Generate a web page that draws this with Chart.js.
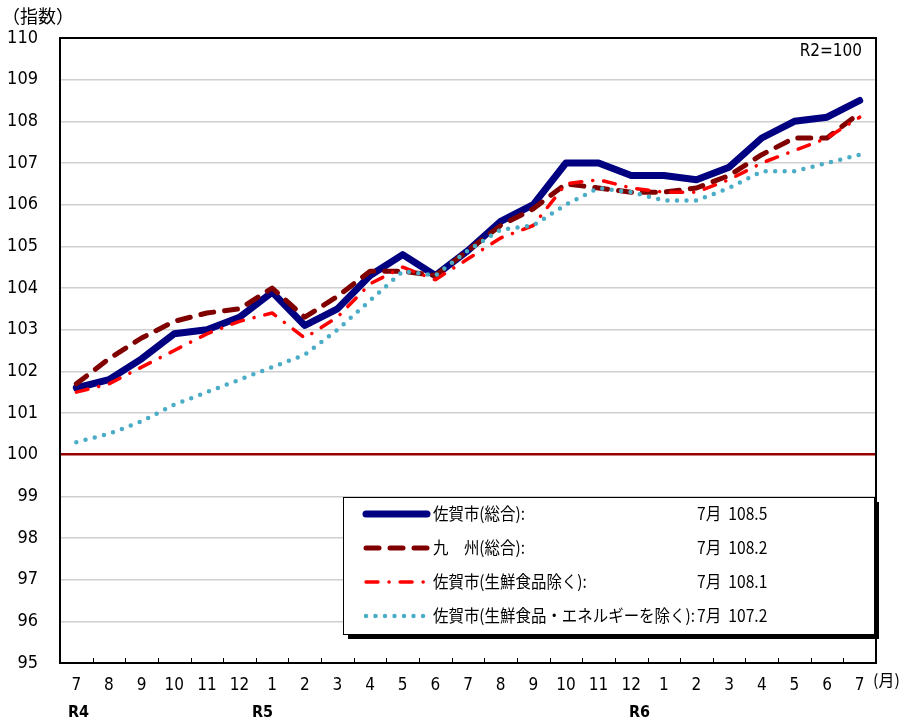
<!DOCTYPE html>
<html>
<head>
<meta charset="utf-8">
<script src="https://cdn.jsdelivr.net/npm/chart.js@4.4.1/dist/chart.umd.min.js"></script>
<style>
  html, body { margin: 0; padding: 0; background: #fff; }
  #wrap { width: 904px; height: 723px; position: relative; }
</style>
</head>
<body>
<div id="wrap"><canvas id="cpi" width="904" height="723"></canvas></div>
<script>
// ── DATA ──────────────────────────────────────────────────────────────────
const months = ['7','8','9','10','11','12','1','2','3','4','5','6',
                '7','8','9','10','11','12','1','2','3','4','5','6','7'];
const eras = ['R4', 'R5', 'R6'];
const yTicks = [95, 96, 97, 98, 99, 100, 101, 102, 103, 104, 105, 106, 107, 108, 109, 110];

const sagaTotal   = [101.6, 101.8, 102.3, 102.9, 103.0, 103.3, 103.9, 103.1, 103.5, 104.3, 104.8, 104.3,
                     104.9, 105.6, 106.0, 107.0, 107.0, 106.7, 106.7, 106.6, 106.9, 107.6, 108.0, 108.1, 108.5];
const kyushuTotal = [101.7, 102.3, 102.8, 103.2, 103.4, 103.5, 104.0, 103.3, 103.8, 104.4, 104.4, 104.3,
                     104.9, 105.5, 105.9, 106.5, 106.4, 106.3, 106.3, 106.4, 106.7, 107.2, 107.6, 107.6, 108.2];
const sagaExFresh = [101.5, 101.7, 102.1, 102.5, 102.9, 103.2, 103.4, 102.8, 103.3, 104.1, 104.5, 104.2,
                     104.7, 105.2, 105.5, 106.5, 106.6, 106.4, 106.3, 106.3, 106.6, 107.0, 107.3, 107.6, 108.1];
const sagaExFreshEnergy = [100.3, 100.5, 100.8, 101.2, 101.5, 101.8, 102.1, 102.4, 103.0, 103.7, 104.4, 104.3,
                     104.9, 105.4, 105.5, 106.0, 106.4, 106.3, 106.1, 106.1, 106.4, 106.8, 106.8, 107.0, 107.2];

const seriesNames = ['佐賀市(総合):', '九　州(総合):', '佐賀市(生鮮食品除く):', '佐賀市(生鮮食品・エネルギーを除く):'];
const latestText  = ['7月  108.5', '7月  108.2', '7月  108.1', '7月  107.2'];

// ── STYLE ─────────────────────────────────────────────────────────────────
const NARROW = '"Liberation Sans Narrow", "Arial Narrow", "DejaVu Sans Condensed", sans-serif';
const JP     = '"Noto Sans CJK JP", "Noto Sans", sans-serif';

const styles = [
  { color: '#000080', width: 7,   dash: [],            cap: 'round' },
  { color: '#800000', width: 5,   dash: [13, 11],      cap: 'round' },
  { color: '#FF0000', width: 3.5, dash: [12, 11, 0.1, 11], cap: 'round' },
  { color: '#4BACC6', width: 4.5, dash: [0, 9.5],      cap: 'round' }
];

// ── DECORATIONS ───────────────────────────────────────────────────────────
const decorPlugin = {
  id: 'decor',
  afterDraw(chart) {
    const { ctx, chartArea: a, scales } = chart;
    const x = scales.x;
    ctx.save();

    // frame
    ctx.strokeStyle = '#000';
    ctx.lineWidth = 2;
    ctx.strokeRect(a.left, a.top, a.right - a.left, a.bottom - a.top);

    // inner tick marks between months
    ctx.lineWidth = 1;
    ctx.beginPath();
    for (let i = 1; i < months.length; i++) {
      const px = Math.round((x.getPixelForValue(i - 1) + x.getPixelForValue(i)) / 2) + 0.5;
      ctx.moveTo(px, a.bottom);
      ctx.lineTo(px, a.bottom - 5);
    }
    ctx.stroke();

    // era labels
    ctx.fillStyle = '#000';
    ctx.font = 'bold 16px ' + NARROW;
    ctx.textBaseline = 'middle';
    ctx.textAlign = 'left';
    const eraX = [68, 252, 629];
    eras.forEach((t, i) => ctx.fillText(t, eraX[i], 713));

    // axis captions
    ctx.font = '18px ' + JP;
    ctx.fillText('（指数）', 2, 16);
    ctx.font = '16px ' + JP;
    ctx.fillText('(月)', 873, 680);
    ctx.font = '17px ' + NARROW;
    ctx.textAlign = 'right';
    ctx.fillText('R2=100', 862, 52);

    // legend box with shadow
    const lx = 343, ly = 497, lw = 531, lh = 137;
    ctx.fillStyle = '#000';
    ctx.fillRect(lx + 5, ly + 5, lw, lh);
    ctx.fillStyle = '#fff';
    ctx.fillRect(lx, ly, lw, lh);
    ctx.strokeStyle = '#000';
    ctx.lineWidth = 1;
    ctx.strokeRect(lx + 0.5, ly + 0.5, lw, lh);

    const rowY = [514, 548, 582, 616];
    styles.forEach((s, i) => {
      ctx.beginPath();
      ctx.strokeStyle = s.color;
      ctx.lineWidth = s.width;
      ctx.lineCap = s.cap;
      ctx.setLineDash(s.dash);
      ctx.moveTo(366, rowY[i]);
      ctx.lineTo(427, rowY[i]);
      ctx.stroke();
    });
    ctx.setLineDash([]);
    ctx.fillStyle = '#000';
    ctx.textAlign = 'left';
    ctx.font = '17px ' + JP;
    const longest = Math.max(...seriesNames.map(t => ctx.measureText(t).width));
    const sx = Math.min(1, 262 / longest);
    seriesNames.forEach((t, i) => {
      ctx.save();
      ctx.translate(433, rowY[i]);
      ctx.scale(sx, 1);
      ctx.fillText(t, 0, 0);
      ctx.restore();
    });
    latestText.forEach((t, i) => {
      ctx.save();
      ctx.translate(697, rowY[i]);
      ctx.scale(0.92, 1);
      ctx.fillText(t, 0, 0);
      ctx.restore();
    });

    ctx.restore();
  }
};

// ── CHART ─────────────────────────────────────────────────────────────────
const seriesData = [sagaTotal, kyushuTotal, sagaExFresh, sagaExFreshEnergy];

new Chart(document.getElementById('cpi'), {
  type: 'line',
  data: {
    labels: months,
    datasets: seriesData.map((d, i) => ({
      label: seriesNames[i],
      data: d,
      borderColor: styles[i].color,
      borderWidth: styles[i].width,
      borderDash: styles[i].dash,
      borderCapStyle: styles[i].cap,
      borderJoinStyle: 'round',
      pointRadius: 0,
      tension: 0,
      fill: false,
      order: 4 - i
    }))
  },
  options: {
    responsive: false,
    animation: false,
    devicePixelRatio: 1,
    layout: { padding: { left: 0, right: 28, top: 38, bottom: 0 } },
    plugins: {
      legend: { display: false },
      tooltip: { enabled: false }
    },
    scales: {
      x: {
        offset: true,
        grid: { display: false },
        border: { display: false },
        afterFit: s => { s.height = 60; },
        ticks: {
          autoSkip: false,
          maxRotation: 0,
          padding: 4,
          color: '#000',
          font: { family: NARROW, size: 17 }
        }
      },
      y: {
        min: 95,
        max: 110,
        afterFit: s => { s.width = 60; },
        afterBuildTicks: s => { s.ticks = yTicks.map(v => ({ value: v })); },
        border: { display: false },
        grid: {
          drawTicks: false,
          color: c => c.tick && c.tick.value === 100 ? '#990000' : '#CFCFCF',
          lineWidth: c => c.tick && c.tick.value === 100 ? 2.5 : 1.5
        },
        ticks: {
          padding: 22,
          color: '#000',
          font: { family: NARROW, size: 18 }
        }
      }
    }
  },
  plugins: [decorPlugin]
});
</script>
</body>
</html>
